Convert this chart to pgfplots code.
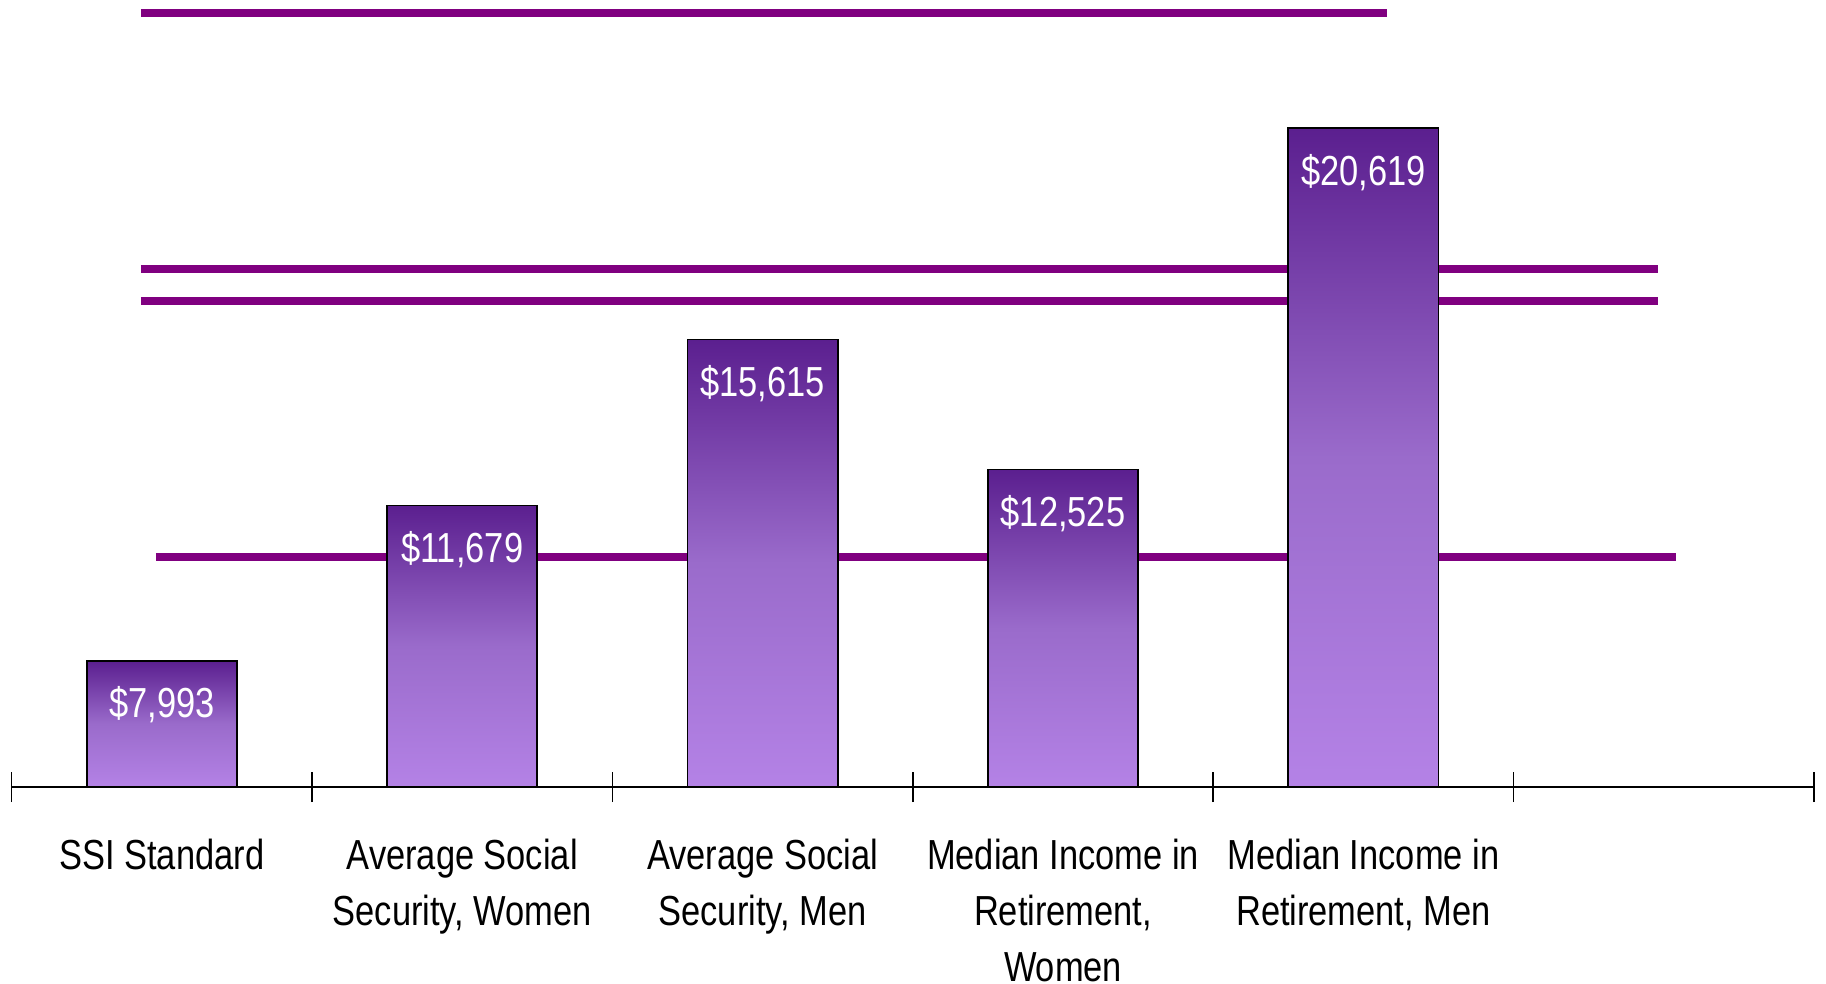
\documentclass[border=0pt]{standalone}
\usepackage{fontspec}
\setmainfont{Liberation Sans}[FakeStretch=0.82]
\usepackage{pgfplots}
\pgfplotsset{compat=1.18}
\definecolor{lineP}{HTML}{800080}
\definecolor{barTop}{HTML}{5B1F8F}
\definecolor{barMid}{HTML}{9A6BCB}
\definecolor{barBot}{HTML}{B482E6}
\pgfplotsset{
  mybar/.style={ybar, bar width=0.5, draw=black, line width=0.5pt,
    top color=barTop, bottom color=barBot, middle color=barMid,
    point meta=explicit symbolic, nodes near coords,
    every node near coord/.append style={anchor=center, yshift=-13.2pt, inner sep=0pt, text=white, font=\fontsize{12.6}{15}\selectfont}},
}
\begin{document}
\begin{tikzpicture}
\path[use as bounding box] (-3.48pt,-58.8pt) rectangle (544.32pt,236.1pt);
\begin{axis}[
  scale only axis, width=540.72pt, height=236.1pt,
  xmin=-0.5, xmax=5.5, ymin=0, ymax=18661,
  y filter/.expression={y-5000},
  axis x line*=bottom, axis y line=none,
  axis line style={black, line width=0.6pt},
  xtick={0,1,2,3,4},
  xticklabels={SSI Standard, {Average Social\\Security, Women}, {Average Social\\Security, Men}, {Median Income in\\Retirement,\\Women}, {Median Income in\\Retirement, Men}},
  major tick length=0pt,
  minor xtick={-0.5,0.5,1.5,2.5,3.5,4.5,5.5},
  minor tick length=9pt,
  tick align=center,
  tick style={black, line width=0.5pt},
  xticklabel style={anchor=north, inner sep=0pt, align=center, font=\fontsize{12.6}{16.8}\selectfont, yshift=-15.3pt},
  clip=false,
]
\addplot[lineP, line width=2.3pt, forget plot] coordinates {(-0.07,23358) (4.08,23358)};
\addplot[lineP, line width=2.3pt, forget plot] coordinates {(-0.07,17290) (4.98,17290)};
\addplot[lineP, line width=2.3pt, forget plot] coordinates {(-0.07,16531) (4.98,16531)};
\addplot[lineP, line width=2.3pt, forget plot] coordinates {(-0.02,10458) (5.04,10458)};
\addplot[mybar] coordinates {(0,7993) [\$7,993]};
\addplot[mybar] coordinates {(1,11679) [\$11,679]};
\addplot[mybar] coordinates {(2,15615) [\$15,615]};
\addplot[mybar] coordinates {(3,12525) [\$12,525]};
\addplot[mybar] coordinates {(4,20619) [\$20,619]};
\end{axis}
\end{tikzpicture}
\end{document}
